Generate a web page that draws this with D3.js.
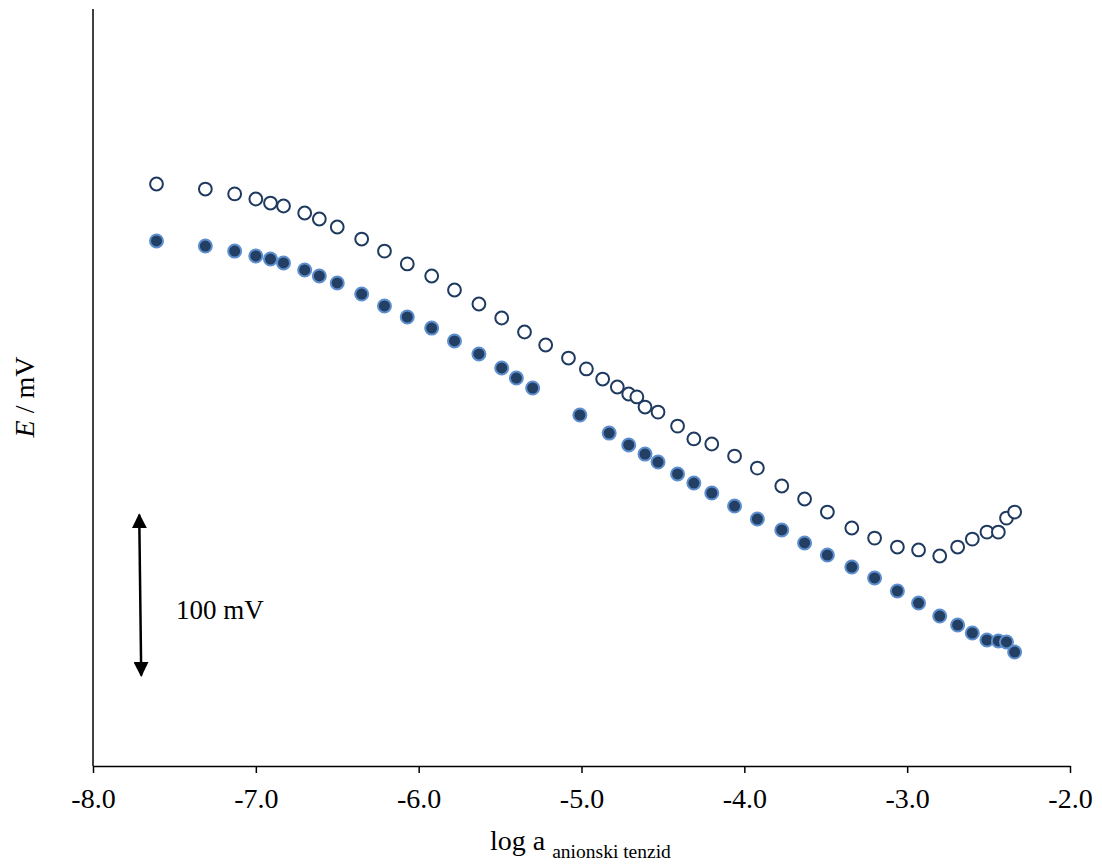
<!DOCTYPE html>
<html>
<head>
<meta charset="utf-8">
<script src="https://cdn.jsdelivr.net/npm/d3@7"></script>
<style>
  body { margin: 0; background: #fff; }
  text { font-family: 'Liberation Serif', 'Times New Roman', serif; fill: #000; }
</style>
</head>
<body>
<div id="container"></div>
<script>
// x values (log a) and E (mV, relative)
const openX = [-7.61, -7.31, -7.13, -7.0, -6.91, -6.83, -6.7, -6.61, -6.5, -6.35, -6.21, -6.07, -5.92,
  -5.78, -5.63, -5.49, -5.35, -5.22, -5.08, -4.97, -4.87, -4.78, -4.71, -4.66, -4.61, -4.53, -4.41,
  -4.31, -4.2, -4.06, -3.92, -3.77, -3.63, -3.49, -3.34, -3.2, -3.06, -2.93, -2.8, -2.69, -2.6,
  -2.51, -2.44, -2.39, -2.34];
const openE = [357.5, 354.4, 351.4, 348.3, 345.8, 344.0, 339.7, 336.0, 331.1, 323.7, 316.3, 308.4,
  301.0, 292.4, 283.8, 275.2, 266.6, 258.6, 250.6, 243.9, 237.7, 232.8, 228.5, 226.7, 220.5, 217.4,
  208.8, 200.9, 197.8, 190.4, 183.0, 172.0, 164.0, 156.0, 146.2, 140.0, 134.5, 132.7, 129.0, 134.5,
  139.4, 143.7, 143.7, 152.3, 156.0];

const filledX = [-7.61, -7.31, -7.13, -7.0, -6.91, -6.83, -6.7, -6.61, -6.5, -6.35, -6.21, -6.07,
  -5.92, -5.78, -5.63, -5.49, -5.4, -5.3, -5.01, -4.83, -4.71, -4.61, -4.53, -4.41, -4.31, -4.2,
  -4.06, -3.92, -3.77, -3.63, -3.49, -3.34, -3.2, -3.06, -2.93, -2.8, -2.69, -2.6, -2.51, -2.44,
  -2.39, -2.34];
const filledE = [322.5, 319.4, 316.3, 313.3, 311.4, 309.0, 304.7, 301.0, 296.7, 289.9, 282.6, 275.8,
  269.0, 261.1, 253.1, 244.5, 238.3, 232.2, 215.6, 204.5, 197.2, 191.6, 186.7, 179.4, 173.8, 167.7,
  159.7, 151.7, 145.0, 137.0, 129.6, 122.2, 115.5, 107.5, 100.1, 92.1, 86.6, 81.7, 77.4, 76.8, 76.2,
  70.0];

const xTicks = [-8, -7, -6, -5, -4, -3, -2];

// 100 mV scale bar
const scaleBarX = -7.71;
const scaleBarE = [55, 155];

const WIDTH = 1102;
const HEIGHT = 867;

const x = d3.scaleLinear().domain([-8, -2]).range([93, 1070]);
const y = d3.scaleLinear().domain([0, 465]).range([766, 9]);

const svg = d3
  .select('#container')
  .append('svg')
  .attr('width', WIDTH)
  .attr('height', HEIGHT);

svg
  .append('defs')
  .append('marker')
  .attr('id', 'head')
  .attr('viewBox', '0 0 10 10')
  .attr('refX', 9)
  .attr('refY', 5)
  .attr('markerWidth', 6)
  .attr('markerHeight', 6)
  .attr('markerUnits', 'strokeWidth')
  .attr('orient', 'auto-start-reverse')
  .append('path')
  .attr('d', 'M0,0 L10,5 L0,10 z')
  .attr('fill', '#000');

// axes
const xAxis = svg
  .append('g')
  .attr('transform', `translate(0, ${y(0)})`)
  .call(
    d3
      .axisBottom(x)
      .tickValues(xTicks)
      .tickSize(7)
      .tickSizeOuter(0)
      .tickPadding(15)
  );
xAxis.select('.domain').attr('stroke', '#000').attr('stroke-width', 1.5);
xAxis.selectAll('.tick line').attr('stroke', '#000').attr('stroke-width', 1.5);
xAxis
  .selectAll('.tick text')
  .attr('font-family', 'Liberation Serif, Times New Roman, serif')
  .attr('font-size', 28)
  .text((d) => d3.format('.1f')(d).replace('−', '-'));

svg
  .append('line')
  .attr('x1', x(-8))
  .attr('x2', x(-8))
  .attr('y1', y(0))
  .attr('y2', y(465))
  .attr('stroke', '#000')
  .attr('stroke-width', 1.5);

// axis titles
const xTitle = svg
  .append('text')
  .attr('x', 490)
  .attr('y', 850)
  .attr('font-size', 28);
xTitle.append('tspan').text('log a ');
xTitle
  .append('tspan')
  .attr('font-size', 19.5)
  .attr('dy', 8)
  .text('anionski tenzid');

const yTitle = svg
  .append('text')
  .attr('transform', 'translate(34, 397) rotate(-90)')
  .attr('text-anchor', 'middle')
  .attr('font-size', 28);
yTitle.append('tspan').attr('font-style', 'italic').text('E');
yTitle.append('tspan').text(' / mV');

// scale bar
svg
  .append('line')
  .attr('x1', x(scaleBarX) - 1)
  .attr('x2', x(scaleBarX) + 1)
  .attr('y1', y(scaleBarE[1]) + 1)
  .attr('y2', y(scaleBarE[0]) - 1)
  .attr('stroke', '#000')
  .attr('stroke-width', 2.5)
  .attr('marker-start', 'url(#head)')
  .attr('marker-end', 'url(#head)');

svg
  .append('text')
  .attr('x', 176)
  .attr('y', 619)
  .attr('font-size', 27)
  .text('100 mV');

// data
svg
  .append('g')
  .selectAll('circle')
  .data(openX.map((d, i) => [d, openE[i]]))
  .enter()
  .append('circle')
  .attr('cx', (d) => x(d[0]))
  .attr('cy', (d) => y(d[1]))
  .attr('r', 6.4)
  .attr('fill', '#fff')
  .attr('stroke', '#1f3a5f')
  .attr('stroke-width', 2);

svg
  .append('g')
  .selectAll('circle')
  .data(filledX.map((d, i) => [d, filledE[i]]))
  .enter()
  .append('circle')
  .attr('cx', (d) => x(d[0]))
  .attr('cy', (d) => y(d[1]))
  .attr('r', 6.5)
  .attr('fill', '#233f63')
  .attr('stroke', '#5e8fcf')
  .attr('stroke-width', 2);
</script>
</body>
</html>
